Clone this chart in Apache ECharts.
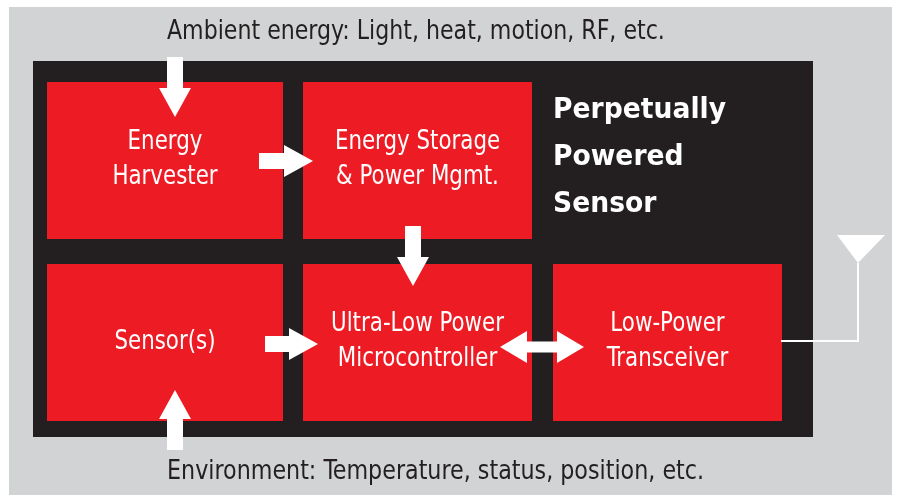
<!DOCTYPE html>
<html>
<head>
<meta charset="utf-8">
<script src="https://cdn.jsdelivr.net/npm/echarts@6/dist/echarts.min.js"></script>
<style>
  html, body { margin: 0; padding: 0; background: #fff; }
  #chart { width: 898px; height: 495px; }
</style>
</head>
<body>
<div id="chart"></div>
<script>
const FONT = '"DejaVu Sans Condensed", "Liberation Sans Narrow", "Roboto", sans-serif';

// diagram extents, in picture units [x0, y0, x1, y1]
const backdrop = [[9, 7, 892, 495]];
const frame = [[33, 61, 813, 437]];
const blocks = [
  [47, 82, 283, 239],
  [303, 82, 532, 239],
  [47, 264, 283, 421],
  [303, 264, 532, 421],
  [553, 264, 782, 421]
];
const blockLabels = [
  "Energy\nHarvester",
  "Energy Storage\n& Power Mgmt.",
  "Sensor(s)",
  "Ultra-Low Power\nMicrocontroller",
  "Low-Power\nTransceiver"
];
// arrows [x0, y0, x1, y1, double?]
const arrows = [
  [175, 57, 175, 117, 0],
  [259, 161, 313, 161, 0],
  [413, 226, 413, 286, 0],
  [265, 344, 318, 344, 0],
  [175, 450, 175, 390, 0],
  [500, 347, 584, 347, 1]
];
const antennaWire = [[781, 341], [858, 341], [858, 263]];
const antennaHead = [[837, 235], [885, 235], [858, 263]];

const topCaption = "Ambient energy: Light, heat, motion, RF, etc.";
const bottomCaption = "Environment: Temperature, status, position, etc.";
const titleLines = ["Perpetually", "Powered", "Sensor"];

function rectItem(color) {
  return function (params, api) {
    const a = api.coord([api.value(0), api.value(1)]);
    const b = api.coord([api.value(2), api.value(3)]);
    const rect = {
      type: "rect",
      shape: { x: a[0], y: a[1], width: b[0] - a[0], height: b[1] - a[1] },
      style: { fill: color }
    };
    if (params.seriesName !== "blocks") return rect;
    return {
      type: "group",
      children: [
        rect,
        {
          type: "text",
          x: (a[0] + b[0]) / 2,
          y: (a[1] + b[1]) / 2 - 1,
          scaleX: 0.88,
          style: {
            text: blockLabels[params.dataIndex],
            fill: "#fff",
            font: "27px " + FONT,
            lineHeight: 35,
            align: "center",
            verticalAlign: "middle"
          }
        }
      ]
    };
  };
}

function arrowPoints(p0, p1, dbl) {
  const dx = p1[0] - p0[0], dy = p1[1] - p0[1];
  const len = Math.sqrt(dx * dx + dy * dy);
  const ux = dx / len, uy = dy / len, nx = -uy, ny = ux;
  const head = dbl ? 27 : 29, hw = 16, sw = dbl ? 5.5 : 8;
  const pt = (t, s) => [p0[0] + ux * t + nx * s, p0[1] + uy * t + ny * s];
  if (!dbl) {
    return [pt(0, -sw), pt(len - head, -sw), pt(len - head, -hw), pt(len, 0),
            pt(len - head, hw), pt(len - head, sw), pt(0, sw)];
  }
  return [pt(0, 0), pt(head, -hw), pt(head, -sw), pt(len - head, -sw), pt(len - head, -hw),
          pt(len, 0), pt(len - head, hw), pt(len - head, sw), pt(head, sw), pt(head, hw)];
}

const chart = echarts.init(document.getElementById("chart"));
chart.setOption({
  animation: false,
  backgroundColor: "#ffffff",
  grid: { left: 0, right: 0, top: 0, bottom: 0 },
  xAxis: { type: "value", min: 0, max: 898, show: false },
  yAxis: { type: "value", min: 0, max: 495, inverse: true, show: false },
  series: [
    { name: "backdrop", type: "custom", data: backdrop, renderItem: rectItem("#d1d3d4"), silent: true },
    { name: "frame", type: "custom", data: frame, renderItem: rectItem("#231f20"), silent: true },
    { name: "blocks", type: "custom", data: blocks, renderItem: rectItem("#ed1c24"), silent: true },
    {
      name: "arrows", type: "custom", data: arrows, silent: true,
      renderItem: function (params, api) {
        const p0 = api.coord([api.value(0), api.value(1)]);
        const p1 = api.coord([api.value(2), api.value(3)]);
        return { type: "polygon", shape: { points: arrowPoints(p0, p1, api.value(4) === 1) }, style: { fill: "#fff" } };
      }
    },
    {
      name: "antenna", type: "custom", data: [0], silent: true,
      renderItem: function (params, api) {
        return {
          type: "group",
          children: [
            { type: "polyline", shape: { points: antennaWire.map((p) => api.coord(p)) },
              style: { stroke: "#fff", lineWidth: 2, fill: null } },
            { type: "polygon", shape: { points: antennaHead.map((p) => api.coord(p)) },
              style: { fill: "#fff" } }
          ]
        };
      }
    },
    {
      name: "captions", type: "custom", data: [0], silent: true,
      renderItem: function (params, api) {
        const t = api.coord([167, 32]);
        const b = api.coord([167, 472]);
        const h = api.coord([553, 110]);
        return {
          type: "group",
          children: [
            { type: "text", x: t[0], y: t[1], scaleX: 0.91,
              style: { text: topCaption, fill: "#231f20", font: "27px " + FONT, verticalAlign: "middle" } },
            { type: "text", x: b[0], y: b[1], scaleX: 0.915,
              style: { text: bottomCaption, fill: "#231f20", font: "27px " + FONT, verticalAlign: "middle" } },
            { type: "text", x: h[0], y: h[1] - 23.5, scaleX: 1.02,
              style: { text: titleLines.join("\n"), fill: "#fff", font: "bold 29px " + FONT, lineHeight: 47, verticalAlign: "top" } }
          ]
        };
      }
    }
  ]
});
</script>
</body>
</html>
